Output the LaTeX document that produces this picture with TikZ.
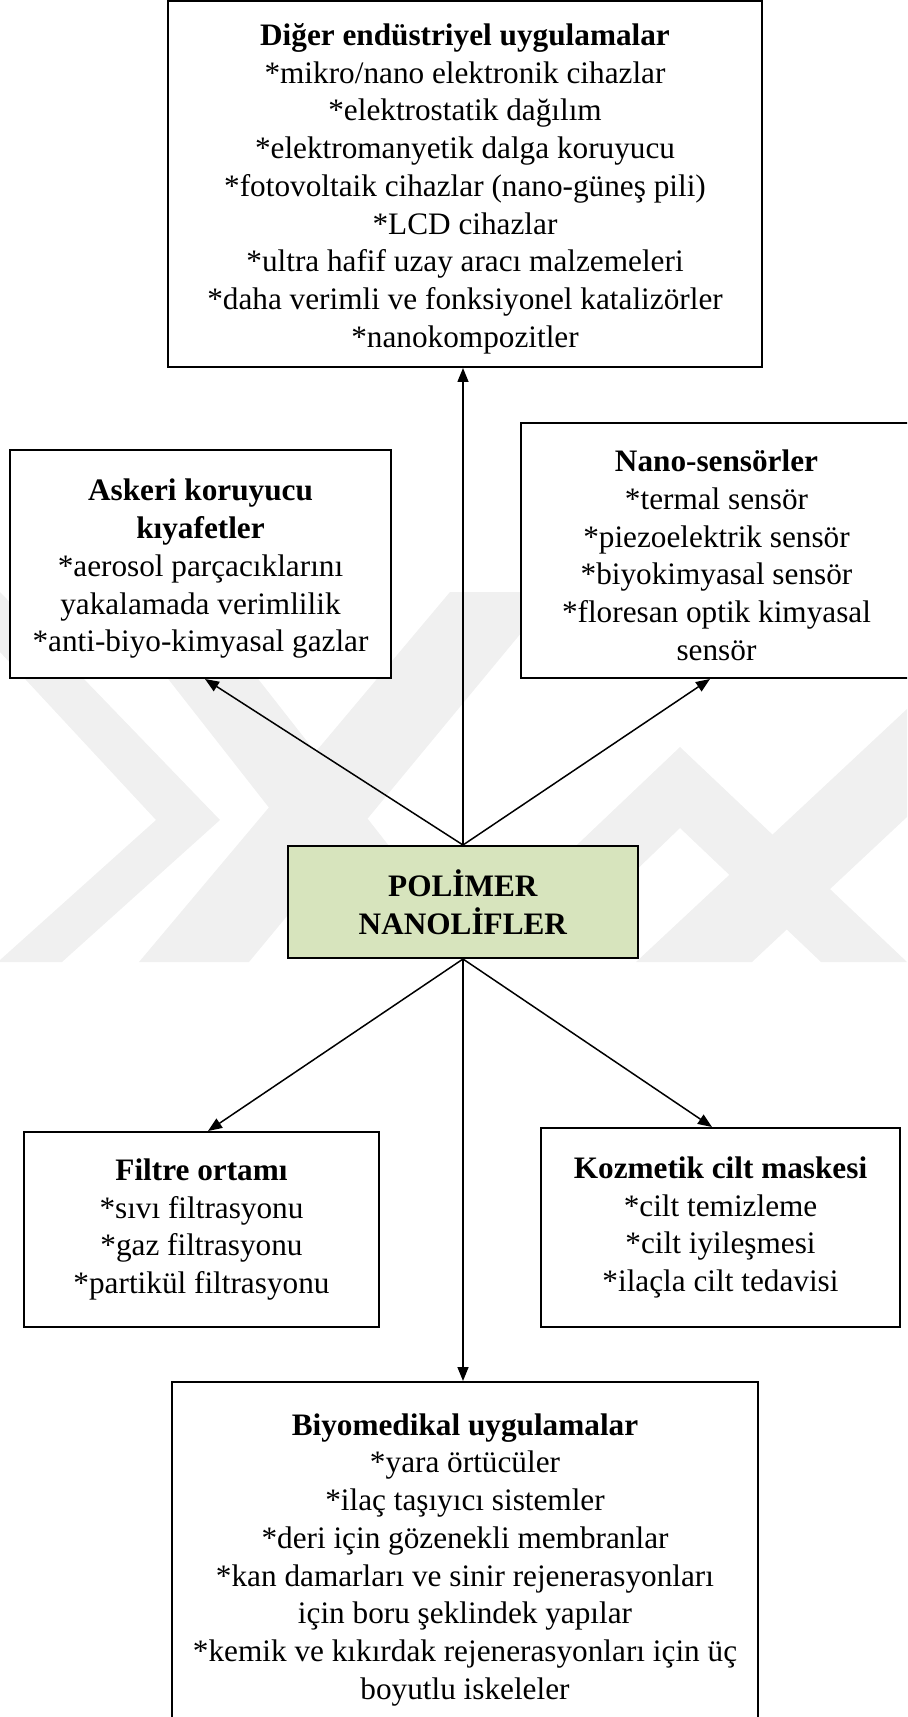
\documentclass[tikz,border=0pt]{standalone}
\usepackage{fontspec}
\setmainfont{Liberation Serif}
\usetikzlibrary{arrows.meta}
\definecolor{nanoyesil}{HTML}{D7E4BD}
\definecolor{filigran}{gray}{0.94}
\newcommand{\payust}[1]{\rule{0pt}{#1}}

\begin{document}
\begin{tikzpicture}[x=0.4pt,y=-0.4pt]

    \tikzset{
      kutu/.style={
        draw,
        line width=0.8pt,
        fill=white,
        align=center,
        inner sep=0pt,
        font=\fontsize{12.5}{15.1}\selectfont,
      },
      ok/.style={
        line width=0.6pt,
        -{Triangle[length=5.6pt,width=4.4pt]},
      },
    }
    \useasboundingbox (0,0) rectangle (907,1717);
    \clip (0,0) rectangle (907,1717);
    % filigran
    \fill[filigran] (0,592)--(220,820)--(62,962)--(0,962)--(0,960)--(156,820)--(0,652)--cycle;
    \fill[filigran] (139,962)--(249,962)--(555,592)--(450,592)--cycle;
    \fill[filigran] (100,592)--(190,592)--(400,860)--(310,860)--cycle;
    \fill[filigran] (540,880)--(680,747)--(907,962)--(821,962)--(680,828)--(600,905)--cycle;
    \fill[filigran] (636,962)--(752,962)--(907,817)--(907,709)--cycle;

    \node[kutu, minimum width=237.6pt, minimum height=146.4pt] (diger) at (465,184)
      {\payust{12.6pt}\textbf{Diğer endüstriyel uygulamalar}\\*mikro/nano elektronik cihazlar\\*elektrostatik dağılım\\
       *elektromanyetik dalga koruyucu\\*fotovoltaik cihazlar (nano-güneş pili)\\*LCD cihazlar\\
       *ultra hafif uzay aracı malzemeleri\\*daha verimli ve fonksiyonel katalizörler\\*nanokompozitler};
    \node[kutu, minimum width=152.4pt, minimum height=91.2pt] (askeri) at (200.5,564)
      {\payust{12.6pt}\textbf{Askeri koruyucu}\\\textbf{kıyafetler}\\*aerosol parçacıklarını\\yakalamada verimlilik\\*anti-biyo-kimyasal gazlar};
    \node[kutu, minimum width=156.4pt, minimum height=102pt] (nano) at (716.5,550.5)
      {\payust{12.6pt}\textbf{Nano-sensörler}\\*termal sensör\\*piezoelektrik sensör\\*biyokimyasal sensör\\*floresan optik kimyasal\\sensör};
    \node[kutu, fill=nanoyesil, minimum width=140pt, minimum height=44.8pt] (merkez) at (463,902)
      {\textbf{POLİMER}\\\textbf{NANOLİFLER}};
    \node[kutu, minimum width=142pt, minimum height=78pt] (filtre) at (201.5,1229.5)
      {\textbf{Filtre ortamı}\\*sıvı filtrasyonu\\*gaz filtrasyonu\\*partikül filtrasyonu};
    \node[kutu, minimum width=143.6pt, minimum height=79.6pt] (kozmetik) at (720.5,1227.5)
      {\textbf{Kozmetik cilt maskesi}\\*cilt temizleme\\*cilt iyileşmesi\\*ilaçla cilt tedavisi};
    \node[kutu, minimum width=234.4pt, minimum height=136pt] (bio) at (465,1552)
      {\payust{14.8pt}\textbf{Biyomedikal uygulamalar}\\*yara örtücüler\\*ilaç taşıyıcı sistemler\\*deri için gözenekli membranlar\\
       *kan damarları ve sinir rejenerasyonları\\için boru şeklindek yapılar\\
       *kemik ve kıkırdak rejenerasyonları için üç\\boyutlu iskeleler};

    \draw[ok] (merkez.north) -- (merkez.north |- diger.south);
    \draw[ok] (merkez.north) -- ([xshift=1.8pt]askeri.south);
    \draw[ok] (merkez.north) -- ([xshift=-2.6pt]nano.south);
    \draw[ok] (merkez.south) -- ([xshift=2.6pt]filtre.north);
    \draw[ok] (merkez.south) -- ([xshift=-3.4pt]kozmetik.north);
    \draw[ok] (merkez.south) -- (merkez.south |- bio.north);

\end{tikzpicture}
\end{document}
